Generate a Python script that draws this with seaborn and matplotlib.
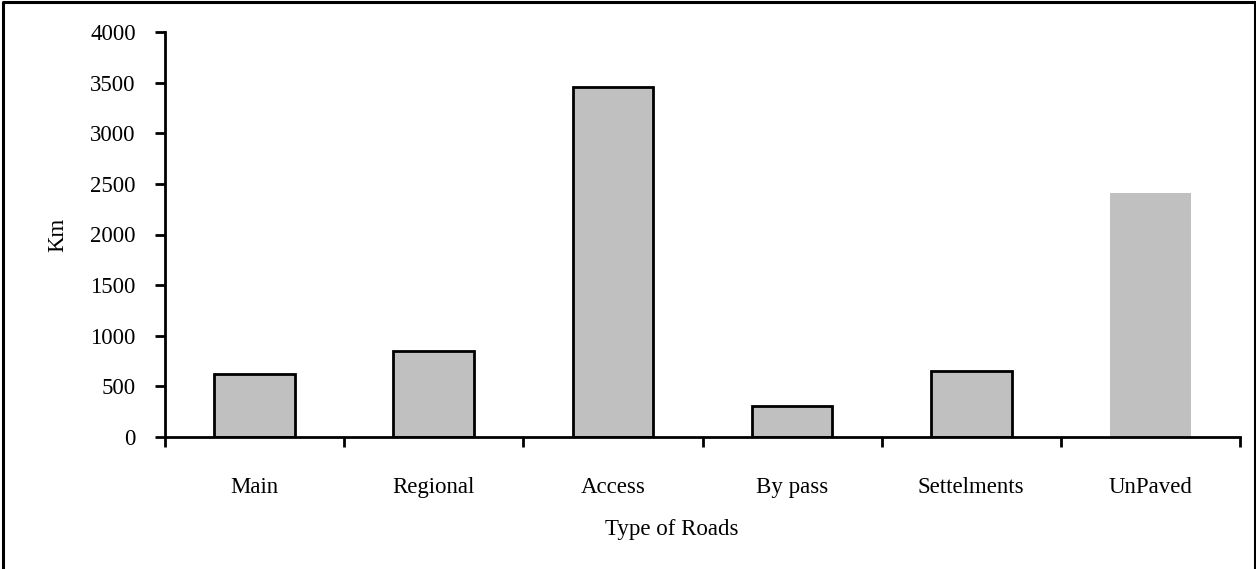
import matplotlib
matplotlib.use("Agg")
import matplotlib.pyplot as plt
import seaborn as sns
import pandas as pd
from matplotlib.lines import Line2D

categories = ["Main", "Regional", "Access", "By pass", "Settelments", "UnPaved"]
values = [620, 850, 3460, 305, 650, 2405]
yticks = [0, 500, 1000, 1500, 2000, 2500, 3000, 3500, 4000]

sns.set_theme(style="white")
plt.rcParams["font.family"] = ["Liberation Serif", "DejaVu Serif"]

FS = 16.5
df = pd.DataFrame({"cat": categories, "val": values})
fig = plt.figure(figsize=(12.56, 5.69), dpi=100)
ax = fig.add_axes([165/1256, 1 - 437/569, (1240-165)/1256, (437-32)/569])
sns.barplot(data=df, x="cat", y="val", color="#c0c0c0", width=0.45, ax=ax,
            saturation=1, edgecolor="black", linewidth=2)
# last bar without outline
ax.patches[-1].set_edgecolor("none")
ax.patches[-1].set_linewidth(0)

ax.set_xlim(-0.5, 5.5)
ax.set_ylim(0, 4000)
ax.set_yticks(yticks)
ax.set_yticklabels([str(t) for t in yticks], fontsize=FS, color="black")
ax.set_xticks(range(len(categories)))
ax.set_xticklabels(categories, fontsize=FS, color="black")
ax.set_xticks([i - 0.5 for i in range(len(categories) + 1)], minor=True)
ax.tick_params(axis="x", which="major", length=0, pad=29)
ax.tick_params(axis="x", which="minor", length=7, width=2, direction="out", color="black", bottom=True)
ax.tick_params(axis="y", length=7, width=2, direction="out", color="black", left=True, pad=14)
for s in ["top", "right"]:
    ax.spines[s].set_visible(False)
for s in ["left", "bottom"]:
    ax.spines[s].set_color("black")
    ax.spines[s].set_linewidth(2)
ax.set_xlabel("Type of Roads", fontsize=FS, color="black")
ax.xaxis.set_label_coords((672 - 165) / 1075, -(530 - 437) / 405, transform=ax.transAxes)
ax.xaxis.label.set_verticalalignment("center")
ax.set_ylabel("Km", fontsize=FS, color="black", labelpad=16)

# figure frame (bottom edge clipped in reference)
x0, x1 = 3.5/1256, 1254.5/1256
y1 = 1 - 1.5/569
fig.add_artist(Line2D([x0, x0, x1, x1], [0, y1, y1, 0], transform=fig.transFigure,
                      color="black", linewidth=2.2))

fig.savefig("out.png", dpi=100, facecolor="white")
